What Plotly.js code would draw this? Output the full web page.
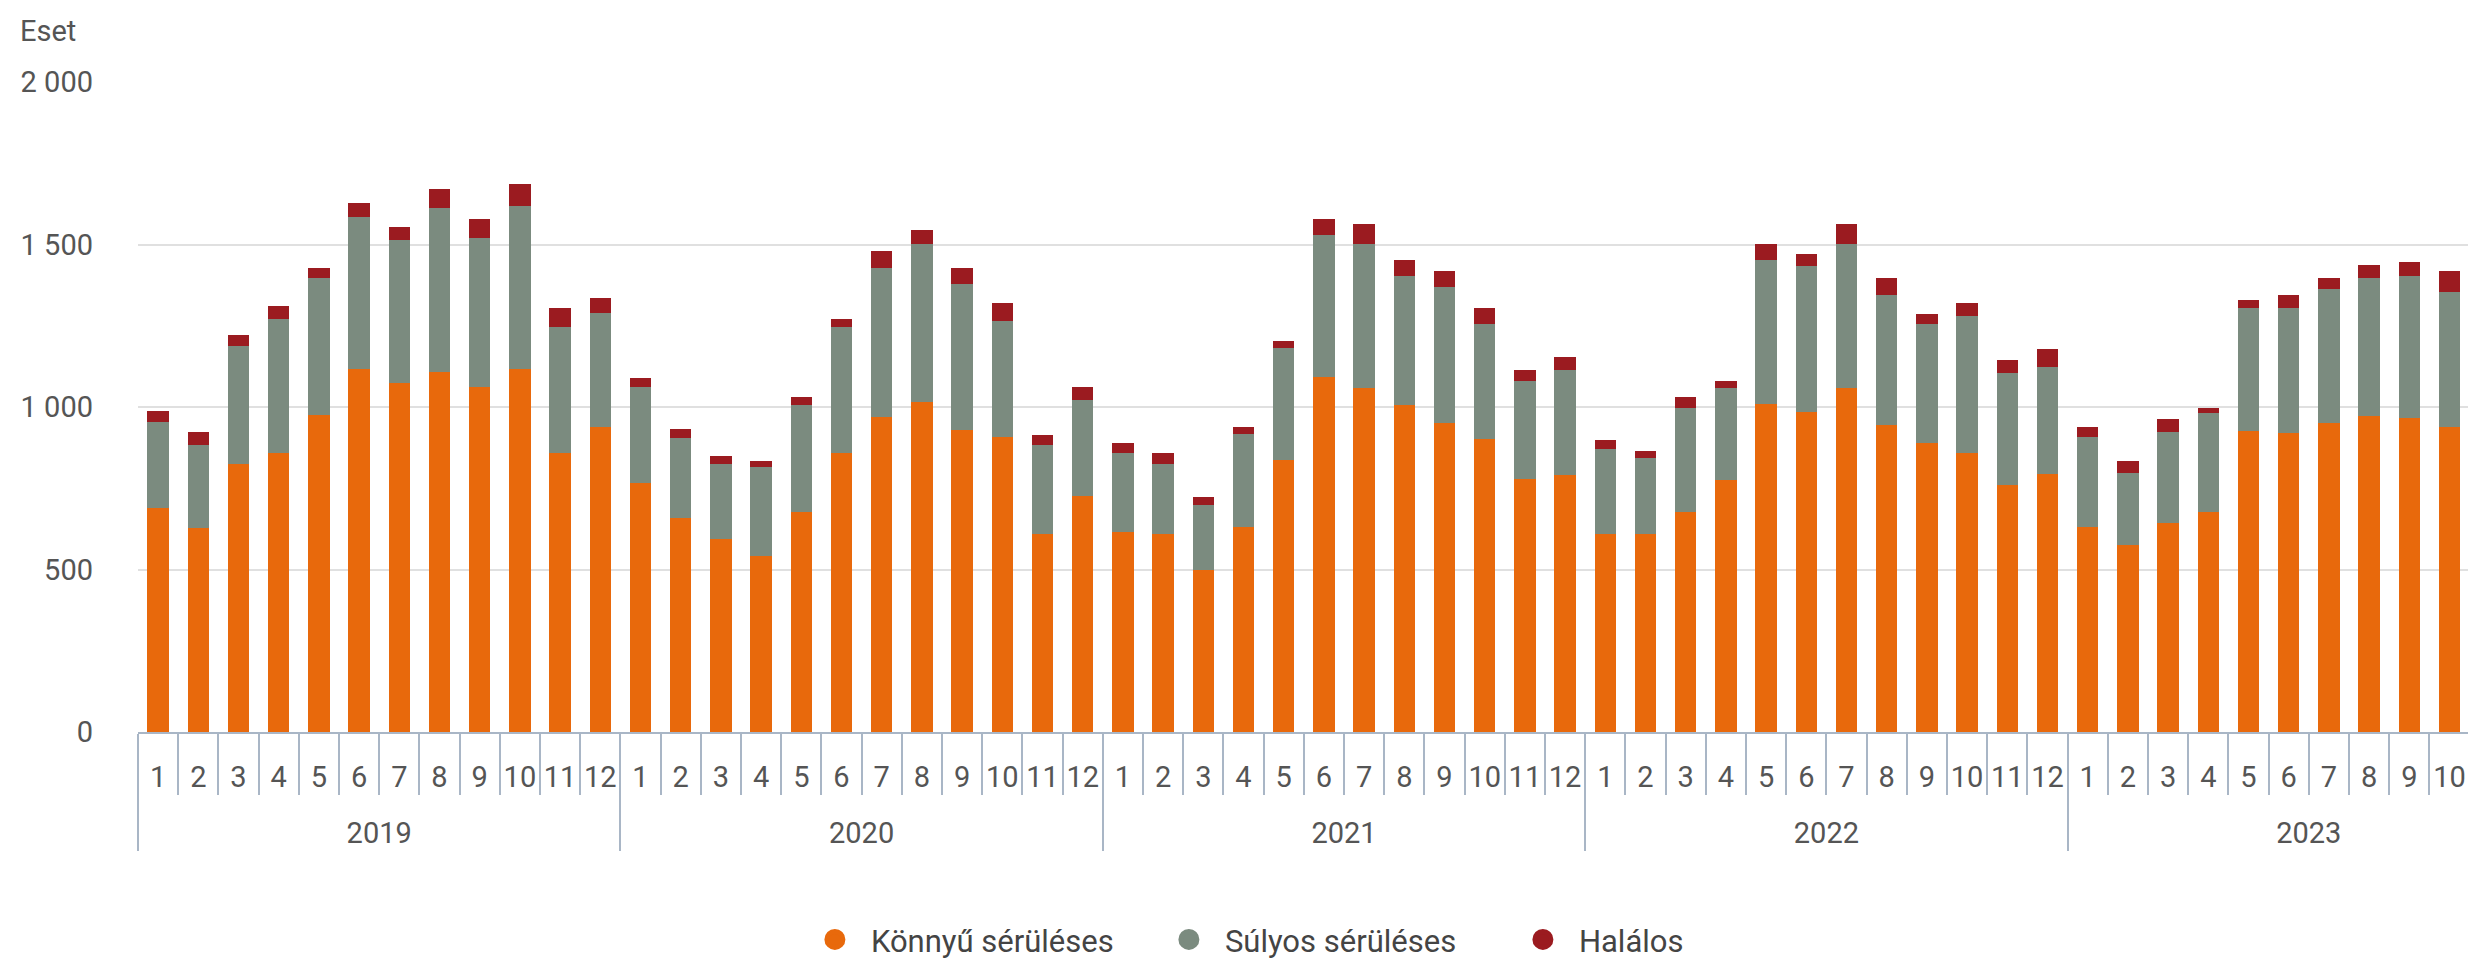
<!DOCTYPE html>
<html>
<head>
<meta charset="utf-8">
<script src="https://cdn.plot.ly/plotly-3.0.1.min.js"></script>
<style>
  html, body { margin: 0; padding: 0; overflow: hidden; background: #fff; }
  #chart { width: 2600px; height: 958px; }
</style>
</head>
<body>
<div id="chart"></div>
<script>
const years = ['2019', '2020', '2021', '2022', '2023'];
const months = ['1','2','3','4','5','6','7','8','9','10','11','12'];

// Könnyű sérüléses (light injury)
const konnyu = [
  688, 628, 825, 858, 976, 1116, 1075, 1107, 1063, 1116, 860, 940,
  765, 658, 593, 543, 678, 858, 970, 1015, 928, 908, 610, 726,
  616, 610, 497, 631, 837, 1092, 1059, 1006, 952, 902, 777, 791,
  610, 608, 676, 775, 1009, 985, 1057, 944, 890, 860, 759, 795,
  631, 575, 643, 676, 926, 920, 952, 973, 967, 940, null, null
];
// Súlyos sérüléses (serious injury)
const sulyos = [
  267, 254, 362, 413, 420, 470, 440, 505, 458, 504, 387, 349,
  298, 248, 232, 272, 328, 389, 458, 488, 450, 357, 272, 297,
  242, 215, 203, 285, 345, 437, 444, 396, 418, 353, 304, 323,
  262, 234, 321, 282, 444, 450, 446, 402, 365, 420, 345, 327,
  277, 223, 280, 306, 378, 384, 411, 423, 435, 414, null, null
];
// Halálos (fatal)
const halalos = [
  34, 40, 35, 41, 32, 42, 39, 58, 57, 67, 57, 47,
  26, 26, 23, 18, 24, 24, 51, 42, 50, 56, 32, 40,
  32, 32, 24, 24, 20, 49, 59, 51, 50, 49, 33, 40,
  26, 22, 33, 24, 50, 35, 59, 50, 31, 41, 42, 57,
  32, 35, 41, 15, 26, 42, 33, 41, 44, 66, null, null
];

const seriesNames = ['Könnyű sérüléses', 'Súlyos sérüléses', 'Halálos'];
const seriesColors = ['#E8690C', '#7B8B7F', '#9B1B20'];
const yTicks = [0, 500, 1000, 1500, 2000];

// year labels get a leading blank line so they sit lower, as in the original
const xYear = [], xMonth = [];
years.forEach(y => months.forEach(m => { xYear.push('<br>' + y); xMonth.push(m); }));
const x = [xYear, xMonth];

const seriesData = [konnyu, sulyos, halalos];
const traces = seriesData.map((vals, i) => ({
  type: 'bar',
  x: x,
  y: vals,
  name: seriesNames[i],
  marker: { color: seriesColors[i], line: { width: 0 } },
  showlegend: false,
  hoverinfo: 'y+name'
}));
// legend entries with round markers (no visible points)
seriesNames.forEach((n, i) => traces.push({
  type: 'scatter',
  mode: 'markers',
  x: x,
  y: x[0].map(() => null),
  name: n,
  marker: { color: seriesColors[i], symbol: 'circle', size: 16,
            line: { color: seriesColors[i], width: 5 } },
  showlegend: true
}));

const fam = 'Roboto, "Open Sans", sans-serif';
const textCol = '#555555';

const layout = {
  width: 2600,
  height: 958,
  margin: { l: 138, r: 50, t: 82, b: 226 },
  paper_bgcolor: '#ffffff',
  plot_bgcolor: '#ffffff',
  font: { family: fam, size: 29, color: textCol },
  barmode: 'stack',
  bargap: 0.47,
  separators: ', ',
  showlegend: true,
  legend: {
    orientation: 'h',
    traceorder: 'normal',
    xref: 'paper',
    x: 0.274,
    xanchor: 'left',
    yref: 'container',
    y: 0.019,
    yanchor: 'middle',
    font: { family: fam, size: 31, color: '#444444' },
    itemsizing: 'trace',
    itemwidth: 62,
    entrywidth: 277,
    entrywidthmode: 'pixels'
  },
  xaxis: {
    type: 'multicategory',
    range: [-0.5, 59.5],
    autorange: false,
    showline: true,
    linecolor: '#A9B6C6',
    linewidth: 2,
    ticks: 'outside',
    tickson: 'boundaries',
    ticklen: 61,
    tickwidth: 2,
    tickcolor: '#A9B6C6',
    tickangle: 0,
    ticklabelstandoff: 18,
    showdividers: true,
    dividercolor: '#A9B6C6',
    dividerwidth: 2,
    showgrid: false,
    tickfont: { family: fam, size: 29, color: textCol },
    fixedrange: true
  },
  yaxis: {
    range: [0, 2000],
    tickvals: yTicks,
    separatethousands: true,
    tickformat: ',d',
    showgrid: true,
    gridcolor: '#E0E0E0',
    gridwidth: 2,
    zeroline: false,
    showline: false,
    ticks: '',
    ticklabelstandoff: 44,
    tickfont: { family: fam, size: 29, color: textCol },
    fixedrange: true
  },
  annotations: [{
    text: 'Eset',
    xref: 'paper', yref: 'paper',
    x: 0, y: 1,
    xanchor: 'left', yanchor: 'middle',
    xshift: -120, yshift: 51,
    showarrow: false,
    font: { family: fam, size: 29, color: textCol }
  }]
};

Plotly.newPlot('chart', traces, layout, { displayModeBar: false, staticPlot: true });
</script>
</body>
</html>
